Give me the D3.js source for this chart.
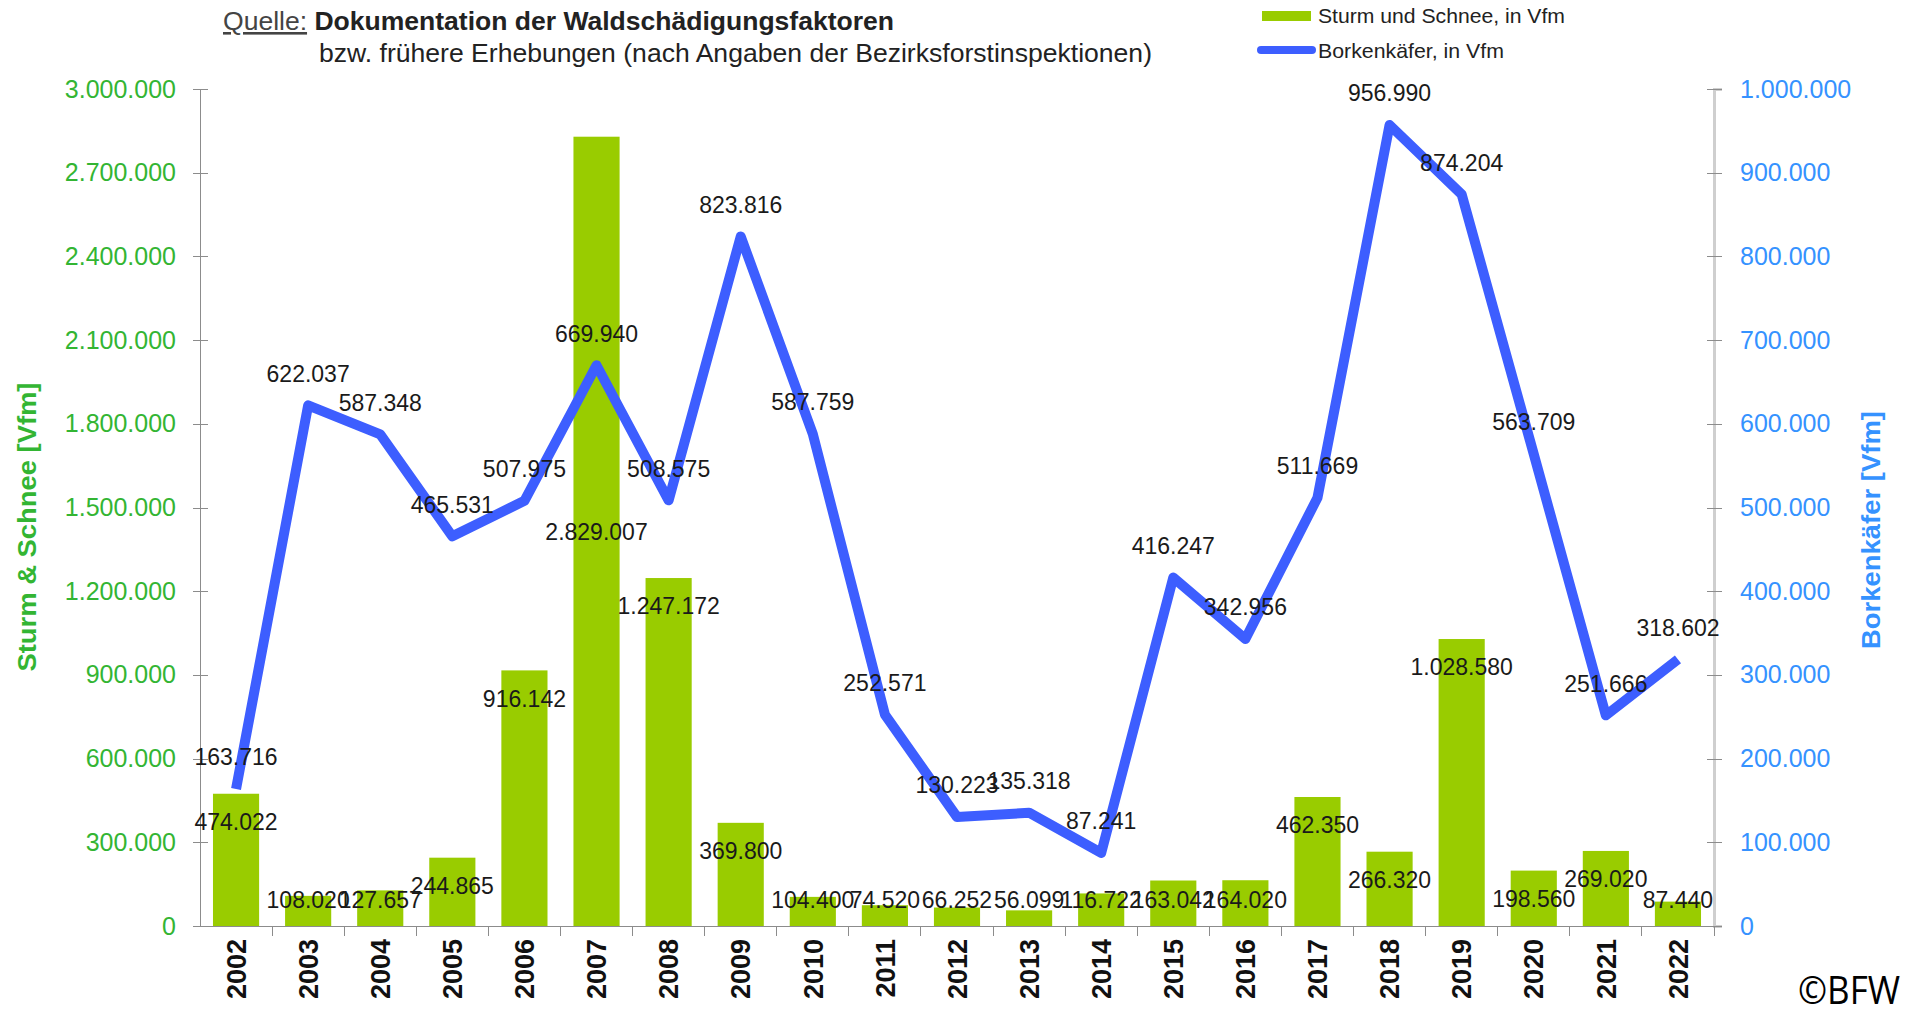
<!DOCTYPE html>
<html>
<head>
<meta charset="utf-8">
<script src="https://cdn.jsdelivr.net/npm/d3@7"></script>
<style>
  body { margin: 0; background: #fff; }
  svg { display: block; }
  .axis path, .axis line { shape-rendering: crispEdges; }
</style>
</head>
<body>
<svg id="chart" width="1908" height="1012"></svg>
<script>
var years = ["2002", "2003", "2004", "2005", "2006", "2007", "2008", "2009", "2010", "2011",
  "2012", "2013", "2014", "2015", "2016", "2017", "2018", "2019", "2020", "2021", "2022"];
var sturmSchnee = [474022, 108020, 127657, 244865, 916142, 2829007, 1247172, 369800, 104400, 74520,
  66252, 56099, 116722, 163042, 164020, 462350, 266320, 1028580, 198560, 269020, 87440];
var borkenkaefer = [163716, 622037, 587348, 465531, 507975, 669940, 508575, 823816, 587759, 252571,
  130223, 135318, 87241, 416247, 342956, 511669, 956990, 874204, 563709, 251666, 318602];
var leftTicks = [0, 300000, 600000, 900000, 1200000, 1500000, 1800000, 2100000, 2400000, 2700000, 3000000];
var rightTicks = [0, 100000, 200000, 300000, 400000, 500000, 600000, 700000, 800000, 900000, 1000000];

var colors = {
  bar: "#99cc00",
  line: "#3d5eff",
  leftText: "#33b533",
  rightText: "#3592ff",
  axis: "#8c8c8c",
  label: "#1a1a1a"
};

var de = d3.formatLocale({ decimal: ",", thousands: ".", grouping: [3], currency: ["", " €"] });
var fmt = de.format(",d");

var plot = { left: 200, right: 1714, top: 89, bottom: 926 };
var svg = d3.select("#chart");

var x = d3.scaleBand().domain(years).range([plot.left, plot.right]).padding(0);
var yL = d3.scaleLinear().domain([0, 3000000]).range([plot.bottom, plot.top]);
var yR = d3.scaleLinear().domain([0, 1000000]).range([plot.bottom, plot.top]);
var barW = x.bandwidth() * 0.64;
var cx = function (yr) { return x(yr) + x.bandwidth() / 2; };

var barData = years.map(function (yr, i) { return { year: yr, value: sturmSchnee[i] }; });
var lineData = years.map(function (yr, i) { return { year: yr, value: borkenkaefer[i] }; });

// left axis
var leftAxis = svg.append("g")
  .attr("class", "axis")
  .attr("transform", "translate(" + plot.left + ",0)")
  .call(d3.axisLeft(yL).tickValues(leftTicks).tickFormat(fmt).tickSize(7).tickPadding(17));
leftAxis.select(".domain").attr("stroke", colors.axis).attr("stroke-width", 1.2);
leftAxis.selectAll(".tick line").attr("x1", -7).attr("x2", 8).attr("stroke", colors.axis);
leftAxis.selectAll(".tick text")
  .attr("fill", colors.leftText)
  .style("font", "25px 'Liberation Sans', Arial, sans-serif");

// right axis
var rightAxis = svg.append("g")
  .attr("class", "axis")
  .attr("transform", "translate(" + plot.right + ",0)")
  .call(d3.axisRight(yR).tickValues(rightTicks).tickFormat(fmt).tickSize(8).tickPadding(18));
rightAxis.select(".domain").attr("stroke", "#cfcfcf").attr("stroke-width", 3.5);
rightAxis.selectAll(".tick line").attr("x1", -7).attr("x2", 8).attr("stroke", colors.axis);
rightAxis.selectAll(".tick text")
  .attr("fill", colors.rightText)
  .style("font", "25px 'Liberation Sans', Arial, sans-serif");

// bars
svg.append("g")
  .selectAll("rect.bar")
  .data(barData)
  .enter()
  .append("rect")
  .attr("class", "bar")
  .attr("x", function (d) { return cx(d.year) - barW / 2; })
  .attr("width", barW)
  .attr("y", function (d) { return yL(d.value); })
  .attr("height", function (d) { return yL(0) - yL(d.value); })
  .attr("fill", colors.bar);

// x axis
var xAxis = svg.append("g")
  .attr("class", "axis")
  .attr("transform", "translate(0," + plot.bottom + ")")
  .call(d3.axisBottom(x).tickSize(0).tickPadding(0));
xAxis.select(".domain").attr("stroke", colors.axis).attr("stroke-width", 1.2);
xAxis.selectAll(".tick text")
  .attr("transform", "rotate(-90)")
  .attr("text-anchor", "end")
  .attr("x", -13)
  .attr("y", 0)
  .attr("dy", "0.36em")
  .attr("fill", "#111")
  .style("font", "bold 27px 'Liberation Sans', Arial, sans-serif");
xAxis.selectAll("line.sep")
  .data(years.slice(1).concat(["end"]))
  .enter()
  .append("line")
  .attr("class", "sep")
  .attr("x1", function (d) { return d === "end" ? plot.right : x(d); })
  .attr("x2", function (d) { return d === "end" ? plot.right : x(d); })
  .attr("y1", 0)
  .attr("y2", 10)
  .attr("stroke", colors.axis);

// borkenkaefer line
var line = d3.line()
  .x(function (d) { return cx(d.year); })
  .y(function (d) { return yR(d.value); });
svg.append("path")
  .datum(lineData)
  .attr("d", line)
  .attr("fill", "none")
  .attr("stroke", colors.line)
  .attr("stroke-width", 10)
  .attr("stroke-linejoin", "round");

// bar labels: inside end, kept above the base; the tallest bar gets its label at mid height
var labelFont = "23px 'Liberation Sans', Arial, sans-serif";
svg.append("g")
  .selectAll("text.bar-label")
  .data(barData)
  .enter()
  .append("text")
  .attr("class", "bar-label")
  .attr("x", function (d) { return cx(d.year); })
  .attr("y", function (d) {
    if (d.value > 2000000) return yL(d.value / 2);
    return Math.min(yL(d.value) + 28, yL(0) - 26);
  })
  .attr("dy", "0.36em")
  .attr("text-anchor", "middle")
  .attr("fill", colors.label)
  .style("font", labelFont)
  .text(function (d) { return fmt(d.value); });

// line labels
svg.append("g")
  .selectAll("text.line-label")
  .data(lineData)
  .enter()
  .append("text")
  .attr("class", "line-label")
  .attr("x", function (d) { return cx(d.year); })
  .attr("y", function (d) { return yR(d.value) - 32; })
  .attr("dy", "0.36em")
  .attr("text-anchor", "middle")
  .attr("fill", colors.label)
  .style("font", labelFont)
  .text(function (d) { return fmt(d.value); });

// axis titles
svg.append("text")
  .attr("transform", "translate(36,527) rotate(-90)")
  .attr("text-anchor", "middle")
  .attr("fill", colors.leftText)
  .attr("textLength", 289)
  .attr("lengthAdjust", "spacingAndGlyphs")
  .style("font", "bold 26px 'Liberation Sans Narrow', 'Liberation Sans', Arial, sans-serif")
  .text("Sturm & Schnee [Vfm]");
svg.append("text")
  .attr("transform", "translate(1880,530) rotate(-90)")
  .attr("text-anchor", "middle")
  .attr("fill", colors.rightText)
  .attr("textLength", 238)
  .attr("lengthAdjust", "spacingAndGlyphs")
  .style("font", "bold 26px 'Liberation Sans Narrow', 'Liberation Sans', Arial, sans-serif")
  .text("Borkenkäfer [Vfm]");

// source note
var narrow = "'Liberation Sans Narrow', 'Liberation Sans', Arial, sans-serif";
var src = svg.append("text")
  .attr("x", 223)
  .attr("y", 30)
  .attr("fill", "#222")
  .attr("textLength", 671)
  .attr("lengthAdjust", "spacingAndGlyphs")
  .style("font", "26px " + narrow);
src.append("tspan").attr("text-decoration", "underline").attr("fill", "#444").text("Quelle:");
src.append("tspan").style("font-weight", "bold").text(" Dokumentation der Waldschädigungsfaktoren");
svg.append("text")
  .attr("x", 319)
  .attr("y", 62)
  .attr("fill", "#222")
  .attr("textLength", 833)
  .attr("lengthAdjust", "spacingAndGlyphs")
  .style("font", "26px " + narrow)
  .text("bzw. frühere Erhebungen (nach Angaben der Bezirksforstinspektionen)");

// legend
var legend = svg.append("g").style("font", "21px " + narrow);
legend.append("rect")
  .attr("x", 1262).attr("y", 11).attr("width", 49).attr("height", 10)
  .attr("fill", colors.bar);
legend.append("text")
  .attr("x", 1318).attr("y", 23)
  .attr("fill", "#222")
  .attr("textLength", 247)
  .attr("lengthAdjust", "spacingAndGlyphs")
  .text("Sturm und Schnee, in Vfm");
legend.append("line")
  .attr("x1", 1261).attr("x2", 1312).attr("y1", 50).attr("y2", 50)
  .attr("stroke", colors.line).attr("stroke-width", 8).attr("stroke-linecap", "round");
legend.append("text")
  .attr("x", 1318).attr("y", 58)
  .attr("fill", "#222")
  .attr("textLength", 186)
  .attr("lengthAdjust", "spacingAndGlyphs")
  .text("Borkenkäfer, in Vfm");

// copyright
svg.append("text")
  .attr("x", 1798)
  .attr("y", 1004)
  .attr("fill", "#000")
  .attr("textLength", 102)
  .attr("lengthAdjust", "spacingAndGlyphs")
  .style("font", "38px 'Open Sans', 'Liberation Sans', sans-serif")
  .text("©BFW");
</script>
</body>
</html>
